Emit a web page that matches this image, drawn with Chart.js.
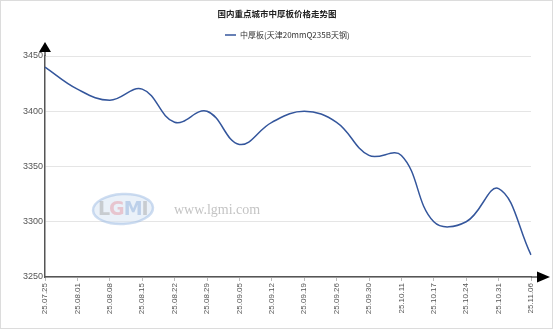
<!DOCTYPE html>
<html>
<head>
<meta charset="utf-8">
<script src="https://cdn.jsdelivr.net/npm/chart.js@4.4.1/dist/chart.umd.min.js"></script>
<style>
  html, body { margin: 0; padding: 0; background: #fff; }
  #wrap { width: 553px; height: 329px; }
</style>
</head>
<body>
<div id="wrap"><canvas id="c" width="553" height="329"></canvas></div>
<script>
// data
const titleText = '国内重点城市中厚板价格走势图';
const seriesName = '中厚板(天津20mmQ235B天钢)';
const dates = ['25.07.25','25.08.01','25.08.08','25.08.15','25.08.22','25.08.29','25.09.05','25.09.12',
               '25.09.19','25.09.26','25.09.30','25.10.11','25.10.17','25.10.24','25.10.31','25.11.06'];
const prices = [3440, 3420, 3410, 3420, 3390, 3400, 3370, 3390, 3400, 3390, 3360, 3360, 3300, 3300, 3330, 3270];
const yMin = 3250, yMax = 3450, yStep = 50;

const lineColor = '#34569c';
const fontFam = '"Liberation Sans", Arial, sans-serif';

// title, legend, watermark, frame and axis arrows
const decor = {
  id: 'decor',
  beforeDatasetsDraw(chart) {
    const ctx = chart.ctx;
    ctx.save();
    // watermark
    ctx.globalAlpha = 0.5;
    ctx.beginPath();
    ctx.ellipse(123, 209, 30, 15, -0.05, 0, Math.PI * 2);
    ctx.fillStyle = '#d6e4f4';
    ctx.fill();
    ctx.lineWidth = 2.5;
    ctx.strokeStyle = '#9dbce3';
    ctx.stroke();
    ctx.font = 'bold 19px "DejaVu Sans", sans-serif';
    ctx.textBaseline = 'middle';
    ctx.textAlign = 'left';
    const parts = [['L', '#a8a8a8'], ['G', '#e59aa6'], ['M', '#8fb0dc'], ['I', '#a8a8a8']];
    let x = 98;
    parts.forEach(p => {
      ctx.fillStyle = p[1];
      ctx.fillText(p[0], x, 210);
      x += ctx.measureText(p[0]).width - 1;
    });
    ctx.globalAlpha = 1;
    ctx.font = '14px "Liberation Serif", serif';
    ctx.fillStyle = '#c4c4c4';
    ctx.fillText('www.lgmi.com', 174, 210);
    ctx.restore();
  },
  afterDraw(chart) {
    const ctx = chart.ctx;
    const a = chart.chartArea;
    ctx.save();
    // outer frame
    ctx.strokeStyle = '#dcdcdc';
    ctx.lineWidth = 1;
    ctx.strokeRect(0.5, 0.5, 552, 328);
    // title
    ctx.fillStyle = '#222';
    ctx.font = 'bold 8.5px "Noto Sans CJK SC", sans-serif';
    ctx.textAlign = 'center';
    ctx.textBaseline = 'middle';
    ctx.fillText(titleText, 277, 14);
    // legend
    ctx.strokeStyle = lineColor;
    ctx.lineWidth = 1.5;
    ctx.beginPath();
    ctx.moveTo(225, 35);
    ctx.lineTo(236, 35);
    ctx.stroke();
    ctx.fillStyle = '#333';
    ctx.font = '8px "Noto Sans CJK SC", sans-serif';
    ctx.textAlign = 'left';
    ctx.fillText(seriesName, 240, 35);
    // axis extension and arrows
    ctx.strokeStyle = '#555';
    ctx.lineWidth = 1.5;
    ctx.beginPath();
    ctx.moveTo(a.right, a.bottom);
    ctx.lineTo(538, a.bottom);
    ctx.moveTo(a.left, a.top);
    ctx.lineTo(a.left, 50);
    ctx.stroke();
    ctx.fillStyle = '#000';
    ctx.beginPath();
    ctx.moveTo(a.left, 42);
    ctx.lineTo(a.left - 6, 52);
    ctx.lineTo(a.left + 6, 52);
    ctx.closePath();
    ctx.fill();
    ctx.beginPath();
    ctx.moveTo(550, a.bottom);
    ctx.lineTo(537, a.bottom - 5.5);
    ctx.lineTo(537, a.bottom + 5.5);
    ctx.closePath();
    ctx.fill();
    ctx.restore();
  }
};

new Chart(document.getElementById('c'), {
  type: 'line',
  data: {
    labels: dates,
    datasets: [{
      label: seriesName,
      data: prices,
      borderColor: lineColor,
      borderWidth: 1.5,
      pointRadius: 0,
      tension: 0.4,
      fill: false
    }]
  },
  options: {
    responsive: false,
    animation: false,
    layout: { padding: { left: 0, right: 22, top: 56, bottom: 0 } },
    plugins: { legend: { display: false }, title: { display: false }, tooltip: { enabled: false } },
    scales: {
      x: {
        offset: false,
        afterFit(s) { s.height = 52; },
        grid: { drawOnChartArea: false, drawTicks: true, tickLength: 4, color: '#bbb' },
        border: { color: '#555', width: 1.5 },
        ticks: { color: '#555', font: { size: 8, family: fontFam }, minRotation: 90, maxRotation: 90, autoSkip: false, padding: 2 }
      },
      y: {
        min: yMin, max: yMax,
        afterFit(s) { s.width = 45; },
        grid: { color: '#e5e5e5', drawTicks: false },
        border: { color: '#555', width: 1.5 },
        ticks: { stepSize: yStep, color: '#555', font: { size: 9, family: fontFam }, padding: 2,
                 callback: v => String(v) }
      }
    }
  },
  plugins: [decor]
});
</script>
</body>
</html>
